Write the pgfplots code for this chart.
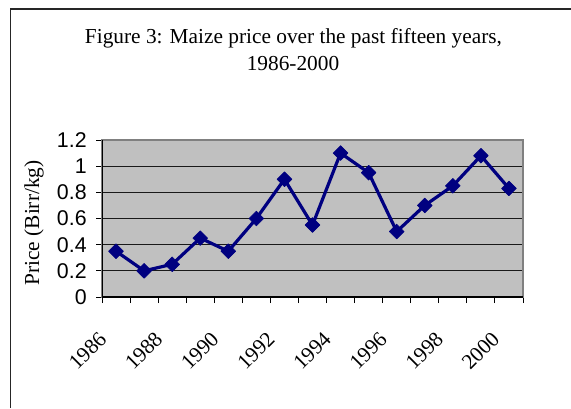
\documentclass[border=0pt]{standalone}
\usepackage{pgfplots}
\pgfplotsset{compat=1.18}
\usepackage{fontspec}
\setmainfont{Liberation Serif}
\newfontfamily\arialfont{Liberation Sans}
\definecolor{navy}{RGB}{0,0,128}
\definecolor{silver}{RGB}{192,192,192}
\begin{document}
\begin{tikzpicture}
\begin{scope}[x=0.75pt,y=0.75pt]
\useasboundingbox (0,0) rectangle (571,408);
\draw[line width=1.2pt, black!85] (10.5,0) -- (10.5,399) -- (571,399);
\node[anchor=base, font=\fontsize{16}{19}\selectfont, inner sep=0pt] at (293.5,364) {Figure 3: Maize price over the past fifteen years,};
\node[anchor=base, font=\fontsize{16}{19}\selectfont, inner sep=0pt] at (293,338) {1986-2000};
\node[rotate=90, font=\fontsize{16}{19}\selectfont, inner sep=0pt] at (34,185) {Price (Birr/kg)};
\end{scope}
\begin{axis}[
  at={(76.5pt,83.25pt)}, anchor=south west, scale only axis,
  width=315.75pt, height=117.75pt,
  xmin=-0.5, xmax=14.5, ymin=0, ymax=1.2,
  axis background/.style={fill=silver},
  axis line style={draw=black!50, line width=1.2pt},
  ytick={0,0.2,0.4,0.6,0.8,1,1.2},
  xtick pos=bottom, ytick pos=left,
  ymajorgrids, grid style={black!90, line width=0.8pt},
  tick align=outside, major tick length=4.5pt,
  tick style={black, line width=0.75pt},
  xtick={-0.5,0.5,...,14.5},
  xticklabels={1986,,1988,,1990,,1992,,1994,,1996,,1998,,2000,},
  /pgf/number format/assume math mode=true,
  yticklabel style={font=\arialfont\fontsize{16}{19}\selectfont, xshift=-3.5pt},
  xticklabel style={font=\fontsize{16}{19}\selectfont, xshift=3pt, yshift=-22pt, rotate=45, anchor=east},
]
\draw[black, line width=0.9pt] (rel axis cs:0,1) -- (rel axis cs:0,0) -- (rel axis cs:1,0);
\addplot[navy, line width=2.4pt, line join=round, mark=square*, mark size=3.9pt, mark options={rotate=45, solid, fill=navy, line width=0.5pt}]
  coordinates {(0,0.35)(1,0.2)(2,0.25)(3,0.45)(4,0.35)(5,0.6)(6,0.9)(7,0.55)(8,1.1)(9,0.95)(10,0.5)(11,0.7)(12,0.85)(13,1.08)(14,0.83)};
\end{axis}
\end{tikzpicture}
\end{document}
